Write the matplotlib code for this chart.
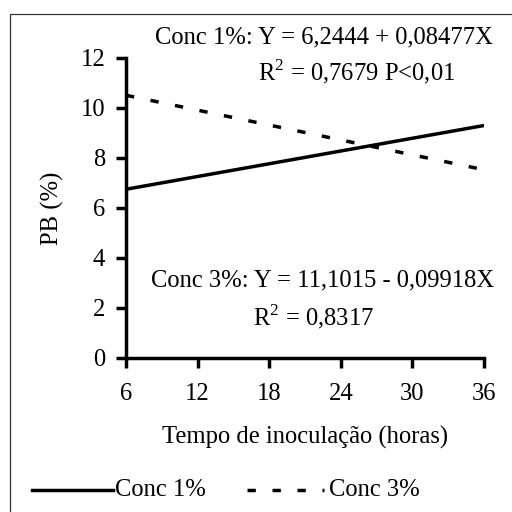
import matplotlib
matplotlib.use("Agg")
import matplotlib.pyplot as plt
from matplotlib.lines import Line2D
from matplotlib.patches import Rectangle

# Data (fitted lines at the ends of the range)
hours = [6, 36]
conc1 = [6.75, 9.30]
conc3 = [10.51, 7.53]
xticks = [6, 12, 18, 24, 30, 36]
yticks = [0, 2, 4, 6, 8, 10, 12]
eq1 = "Conc 1%: Y = 6,2444 + 0,08477X"
r1 = "R$^2$ = 0,7679 P<0,01"
eq3 = "Conc 3%: Y = 11,1015 - 0,09918X"
r3 = "R$^2$ = 0,8317"
labels = ["Conc 1%", "Conc 3%"]

plt.rcParams['font.family'] = ['Liberation Serif', 'DejaVu Serif']
plt.rcParams['mathtext.fontset'] = 'custom'
plt.rcParams['mathtext.rm'] = 'Liberation Serif'
plt.rcParams['lines.scale_dashes'] = False

FS = 17.7
W = H = 512
fig = plt.figure(figsize=(5.12, 5.12), dpi=100)

def fx(px):
    return px / W

def fy(py):
    return 1 - py / H

ax = fig.add_axes([fx(126), fy(358), fx(484) - fx(126), fy(58) - fy(358)])
ax.plot(hours, conc1, color='black', lw=2.5, solid_capstyle='butt')
ax.plot(hours, conc3, color='black', lw=2.5, dashes=(6, 12), dash_capstyle='butt')
ax.set_xlim(6, 36)
ax.set_ylim(0, 12)
ax.set_xticks(xticks)
ax.set_yticks(yticks)
for s in ['top', 'right']:
    ax.spines[s].set_visible(False)
for s in ['left', 'bottom']:
    ax.spines[s].set_linewidth(2.5)
ax.tick_params(axis='both', direction='out', length=7, width=2.5, labelsize=FS)
ax.tick_params(axis='x', pad=11)
ax.tick_params(axis='y', pad=8)

fig.text(fx(324), fy(37), eq1, ha='center', va='center', fontsize=FS)
fig.text(fx(357), fy(72), r1, ha='center', va='center', fontsize=FS)
fig.text(fx(323), fy(280), eq3, ha='center', va='center', fontsize=FS)
fig.text(fx(314), fy(317), r3, ha='center', va='center', fontsize=FS)

fig.text(fx(305), fy(437), "Tempo de inoculação (horas)", ha='center', va='center', fontsize=FS)
fig.text(fx(52), fy(208), "PB (%)", ha='center', va='center', rotation=90, fontsize=FS)

# legend
ly = fy(490)
fig.add_artist(Line2D([fx(32), fx(113)], [ly, ly], color='black', lw=2.5))
fig.text(fx(115), ly, labels[0], ha='left', va='center', fontsize=FS)
fig.add_artist(Line2D([fx(247), fx(324)], [ly, ly], color='black', lw=2.5, dashes=(6, 12)))
fig.text(fx(329), ly, labels[1], ha='left', va='center', fontsize=FS)

fig.add_artist(Rectangle((fx(10), -0.02), 1.0, fy(14) + 0.02, transform=fig.transFigure,
                         fill=False, edgecolor='#333333', lw=0.9))

fig.savefig("out.png", dpi=100)
